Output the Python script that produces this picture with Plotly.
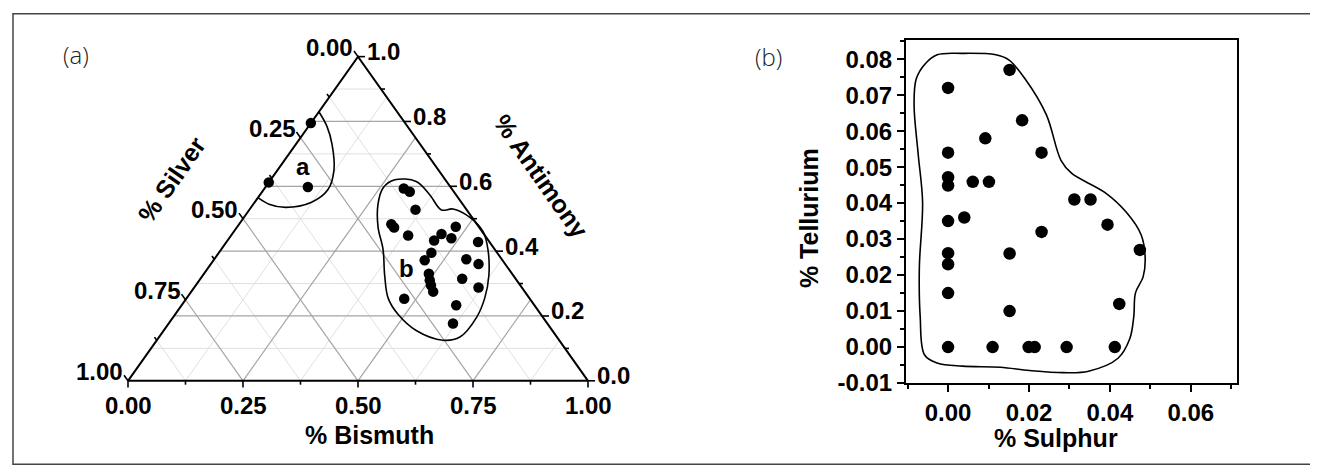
import plotly.graph_objects as go

# ---------------- Panel (a): ternary data (Silver = 1 - Bismuth - Antimony) ----------------
group_a_bismuth = [0.0, 0.0, 0.092]
group_a_antimony = [0.795, 0.612, 0.598]

group_b_bismuth = [0.303, 0.321, 0.361, 0.331, 0.342, 0.385, 0.475, 0.455, 0.449, 0.483,
                   0.547, 0.462, 0.459, 0.548, 0.582, 0.489, 0.501, 0.511, 0.526, 0.569,
                   0.618, 0.474, 0.597, 0.618]
group_b_antimony = [0.593, 0.583, 0.528, 0.483, 0.473, 0.448, 0.475, 0.453, 0.433, 0.440,
                    0.428, 0.395, 0.372, 0.375, 0.360, 0.330, 0.310, 0.295, 0.275, 0.315,
                    0.288, 0.253, 0.233, 0.177]

outline_a_bismuth = [0.0, 0.040, 0.0785, 0.1228, 0.1398, 0.1228, 0.0755, 0.034, 0.0]
outline_a_antimony = [0.830, 0.785, 0.730, 0.650, 0.590, 0.550, 0.535, 0.545, 0.565]

outline_b_bismuth = [0.270, 0.319, 0.368, 0.418, 0.4415, 0.490, 0.542, 0.580, 0.622, 0.648,
                     0.660, 0.654, 0.622, 0.549, 0.4845, 0.438, 0.3955, 0.352, 0.306, 0.271,
                     0.257, 0.270]
outline_b_antimony = [0.620, 0.615, 0.575, 0.527, 0.530, 0.505, 0.460, 0.405, 0.325, 0.255,
                      0.195, 0.135, 0.125, 0.155, 0.205, 0.255, 0.325, 0.405, 0.475, 0.545,
                      0.595, 0.620]

group_labels = ["a", "b"]
group_label_bismuth = [0.05, 0.434]
group_label_antimony = [0.66, 0.345]

silver_ticks = [0.0, 0.25, 0.50, 0.75, 1.0]
silver_tick_text = ["0.00", "0.25", "0.50", "0.75", "1.00"]
antimony_ticks = [0.0, 0.2, 0.4, 0.6, 0.8, 1.0]
antimony_tick_text = ["0.0", "0.2", "0.4", "0.6", "0.8", "1.0"]
bismuth_ticks = [0.0, 0.25, 0.50, 0.75, 1.0]
bismuth_tick_text = ["0.00", "0.25", "0.50", "0.75", "1.00"]

# ---------------- Panel (b): Sulphur vs Tellurium ----------------
sulphur = [0.0, 0.0152, 0.0183, 0.0092, 0.0, 0.0231, 0.0, 0.0, 0.0061, 0.0101,
           0.0312, 0.0352, 0.0040, 0.0, 0.0394, 0.0231, 0.0474, 0.0, 0.0152, 0.0,
           0.0, 0.0423, 0.0152, 0.0, 0.0110, 0.0199, 0.0214, 0.0293, 0.0412]
tellurium = [0.072, 0.077, 0.063, 0.058, 0.054, 0.054, 0.0472, 0.0449, 0.0459, 0.0459,
             0.041, 0.041, 0.036, 0.035, 0.034, 0.032, 0.027, 0.0261, 0.026, 0.023,
             0.015, 0.012, 0.010, 0.0, 0.0, 0.0, 0.0, 0.0, 0.0]

outline_s = [-0.0027, 0.0035, 0.0118, 0.0150, 0.0191, 0.0243, 0.0279, 0.0305, 0.0388, 0.0440,
             0.0477, 0.0487, 0.0482, 0.0463, 0.0459, 0.0449, 0.0420, 0.0347, 0.0285, 0.0201,
             0.0129, 0.0035, -0.0027, -0.0058, -0.0069, -0.0071, -0.0063, -0.0074, -0.0084,
             -0.0079, -0.0058, -0.0027]
outline_te = [0.0812, 0.0816, 0.0812, 0.0798, 0.0744, 0.0645, 0.0519, 0.0483, 0.0429, 0.0375,
              0.0312, 0.0249, 0.0195, 0.0150, 0.0086, 0.0023, -0.0031, -0.0067, -0.0071, -0.0065,
              -0.0056, -0.0053, -0.0044, -0.0022, 0.0086, 0.0222, 0.0402, 0.0537, 0.0672,
              0.0744, 0.0785, 0.0812]

x_ticks_b = [0.0, 0.02, 0.04, 0.06]
x_tick_text_b = ["0.00", "0.02", "0.04", "0.06"]
y_ticks_b = [-0.01, 0.0, 0.01, 0.02, 0.03, 0.04, 0.05, 0.06, 0.07, 0.08]
y_tick_text_b = ["-0.01", "0.00", "0.01", "0.02", "0.03", "0.04", "0.05", "0.06", "0.07", "0.08"]

# ---------------- helpers ----------------
BOLD = dict(family="Liberation Sans, Arial, sans-serif", color="black", weight="bold")


def tern(bi, sb):
    """ternary (bismuth, antimony) -> cartesian of the drawn triangle"""
    return bi + sb / 2.0, sb


fig = go.Figure()


def add_lines(xs, ys, color, width, xaxis="x", yaxis="y"):
    fig.add_trace(go.Scatter(x=xs, y=ys, mode="lines", line=dict(color=color, width=width),
                             hoverinfo="skip", showlegend=False, xaxis=xaxis, yaxis=yaxis))


# ---- ternary grid ----
def grid_segments(step_count_h, step_count_d, major_every_h, major_every_d):
    maj = ([], [])
    mnr = ([], [])
    for k in range(1, step_count_h):
        a = k / step_count_h
        tgt = maj if k % major_every_h == 0 else mnr
        x0, y0 = tern(0.0, a)
        x1, y1 = tern(1.0 - a, a)
        tgt[0].extend([x0, x1, None]); tgt[1].extend([y0, y1, None])
    for k in range(1, step_count_d):
        v = k / step_count_d
        tgt = maj if k % major_every_d == 0 else mnr
        # constant bismuth
        x0, y0 = tern(v, 0.0)
        x1, y1 = tern(v, 1.0 - v)
        tgt[0].extend([x0, x1, None]); tgt[1].extend([y0, y1, None])
        # constant silver
        x0, y0 = tern(1.0 - v, 0.0)
        x1, y1 = tern(0.0, 1.0 - v)
        tgt[0].extend([x0, x1, None]); tgt[1].extend([y0, y1, None])
    return maj, mnr


maj, mnr = grid_segments(10, 8, 2, 2)
add_lines(mnr[0], mnr[1], "#e0e0e0", 1)
add_lines(maj[0], maj[1], "#a5a5a5", 1.2)

# ---- triangle edges ----
cx, cy = [], []
for bi, sb in [(0, 0), (1, 0), (0, 1), (0, 0)]:
    x, y = tern(bi, sb)
    cx.append(x); cy.append(y)
add_lines(cx, cy, "black", 2)

# ---- edge ticks ----
PXX, PXY = 460.0, 333.3  # pixels per unit of the triangle frame
tx, ty = [], []
for k in range(0, 9):  # silver, left edge, every 0.125
    s = k / 8
    L = 7 if k % 2 == 0 else 4
    x0, y0 = tern(0.0, 1.0 - s)
    t = L / 405.0
    tx.extend([x0, x0 - t / 2, None]); ty.extend([y0, y0 + t, None])
for k in range(0, 11):  # antimony, right edge, every 0.1
    a = k / 10
    L = 7 if k % 2 == 0 else 4
    x0, y0 = tern(1.0 - a, a)
    tx.extend([x0, x0 + L / PXX, None]); ty.extend([y0, y0, None])
for k in range(0, 9):  # bismuth, bottom, every 0.125
    c = k / 8
    L = 7 if k % 2 == 0 else 4
    x0, y0 = tern(c, 0.0)
    tx.extend([x0, x0, None]); ty.extend([y0, y0 - L / PXY, None])
add_lines(tx, ty, "black", 1.6)

# ---- outlines ----
for ob, oa in [(outline_a_bismuth, outline_a_antimony), (outline_b_bismuth, outline_b_antimony)]:
    ox, oy = zip(*[tern(b, a) for b, a in zip(ob, oa)])
    fig.add_trace(go.Scatter(x=list(ox), y=list(oy), mode="lines",
                             line=dict(color="black", width=1.6, shape="spline", smoothing=1.0),
                             hoverinfo="skip", showlegend=False))

# ---- points ----
for bis, ant in [(group_a_bismuth, group_a_antimony), (group_b_bismuth, group_b_antimony)]:
    px_, py_ = zip(*[tern(b, a) for b, a in zip(bis, ant)])
    fig.add_trace(go.Scatter(x=list(px_), y=list(py_), mode="markers",
                             marker=dict(color="black", size=10.5), showlegend=False, cliponaxis=False))

annotations = []
TICKFONT = dict(BOLD, size=24)
for v, t in zip(silver_ticks, silver_tick_text):
    x, y = tern(0.0, 1.0 - v)
    annotations.append(dict(x=x, y=y, xref="x", yref="y", text=t, showarrow=False, font=TICKFONT,
                            xanchor="right", yanchor="middle", xshift=-3, yshift=9))
for v, t in zip(antimony_ticks, antimony_tick_text):
    x, y = tern(1.0 - v, v)
    annotations.append(dict(x=x, y=y, xref="x", yref="y", text=t, showarrow=False, font=TICKFONT,
                            xanchor="left", yanchor="middle", xshift=7, yshift=5))
for v, t in zip(bismuth_ticks, bismuth_tick_text):
    x, y = tern(v, 0.0)
    annotations.append(dict(x=x, y=y, xref="x", yref="y", text=t, showarrow=False, font=TICKFONT,
                            xanchor="center", yanchor="middle", yshift=-25))
for lab, b, a in zip(group_labels, group_label_bismuth, group_label_antimony):
    x, y = tern(b, a)
    annotations.append(dict(x=x, y=y, xref="x", yref="y", text=lab, showarrow=False,
                            font=dict(BOLD, size=24), xanchor="center", yanchor="middle"))

W, H = 1318.0, 475.0
TITLEFONT = dict(BOLD, size=25)


def pa(px, py):
    return px / W, 1 - py / H


for text, (px, py), ang in [("% Silver", (164, 176), -55), ("% Antimony", (533, 173), 55),
                            ("% Bismuth", (362, 439), 0), ("% Sulphur", (1048, 442), 0),
                            ("% Tellurium", (801, 216), -90)]:
    x, y = pa(px, py)
    annotations.append(dict(x=x, y=y, xref="paper", yref="paper", text=text, showarrow=False,
                            font=TITLEFONT, textangle=ang, xanchor="center", yanchor="middle"))

PANELFONT = dict(family="Open Sans, sans-serif", size=24, color="#222222", weight=300)
for text, (px, py) in [("(a)", (68, 48)), ("(b)", (760, 50))]:
    x, y = pa(px, py)
    annotations.append(dict(x=x, y=y, xref="paper", yref="paper", text=text, showarrow=False,
                            font=PANELFONT, xanchor="center", yanchor="middle"))

# ---- panel (b) ----
fig.add_trace(go.Scatter(x=outline_s, y=outline_te, mode="lines", xaxis="x2", yaxis="y2",
                         line=dict(color="black", width=1.6, shape="spline", smoothing=1.0),
                         hoverinfo="skip", showlegend=False))
fig.add_trace(go.Scatter(x=sulphur, y=tellurium, mode="markers", xaxis="x2", yaxis="y2",
                         marker=dict(color="black", size=12.5), showlegend=False))

axis_common = dict(showline=True, linecolor="black", linewidth=2, mirror=True, ticks="outside",
                   ticklen=7, tickwidth=2, tickcolor="black", showgrid=False, zeroline=False,
                   tickfont=TICKFONT, fixedrange=True)

fig.update_layout(
    width=1318, height=475, margin=dict(l=0, r=0, t=0, b=0),
    paper_bgcolor="white", plot_bgcolor="rgba(0,0,0,0)",
    xaxis=dict(domain=[0, 0.5], range=[-0.26087, 1.17174], visible=False, fixedrange=True),
    yaxis=dict(domain=[0, 1], range=[-0.27513, 1.15002], visible=False, fixedrange=True),
    xaxis2=dict(axis_common, domain=[898 / W, 1229 / W], range=[-0.0104, 0.0714], anchor="y2",
                tickvals=x_ticks_b, ticktext=x_tick_text_b,
                minor=dict(ticks="outside", ticklen=4, tickwidth=1.5, tickcolor="black", dtick=0.01, tick0=0)),
    yaxis2=dict(axis_common, domain=[1 - 386 / H, 1 - 33.3 / H], range=[-0.0101, 0.0852], anchor="x2",
                tickvals=y_ticks_b, ticktext=y_tick_text_b,
                minor=dict(ticks="outside", ticklen=4, tickwidth=1.5, tickcolor="black", dtick=0.005, tick0=0)),
    annotations=annotations,
    shapes=[dict(type="rect", xref="paper", yref="paper", x0=5 / W, x1=1313 / W, y0=1 - 469 / H, y1=1 - 6 / H,
                 line=dict(color="#444444", width=1.5))],
)

fig.write_html("out.html")
